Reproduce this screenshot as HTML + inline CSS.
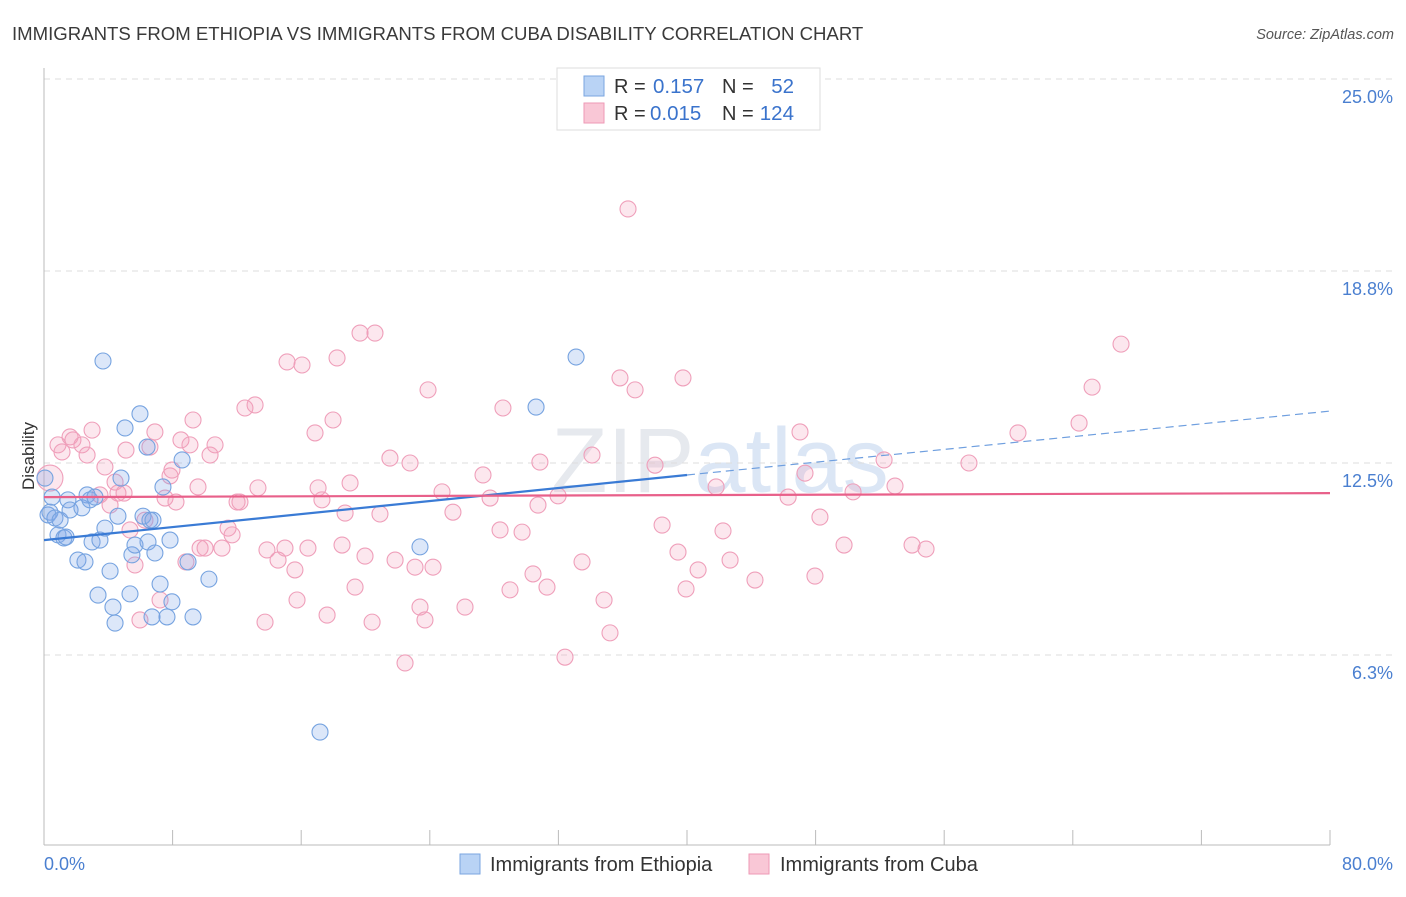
<!DOCTYPE html>
<html><head><meta charset="utf-8"><style>
body{margin:0;background:#fff;font-family:"Liberation Sans",sans-serif;}
svg text{font-family:"Liberation Sans",sans-serif;}
</style></head><body>
<svg id="chart" width="1406" height="892" viewBox="0 0 1406 892" xmlns="http://www.w3.org/2000/svg">
<text x="12" y="40" font-size="18.6" fill="#3a3a3a">IMMIGRANTS FROM ETHIOPIA VS IMMIGRANTS FROM CUBA DISABILITY CORRELATION CHART</text>
<text x="1394" y="39" font-size="14.5" fill="#555" font-style="italic" text-anchor="end">Source: ZipAtlas.com</text>
<text x="0" y="0" transform="translate(34,456) rotate(-90)" font-size="17" fill="#333" text-anchor="middle">Disability</text>
<text x="720" y="492" font-size="92" fill="#e6e9ee" text-anchor="middle" font-family="Liberation Serif">ZIP<tspan font-family="Liberation Sans" fill="#dbe6f5">atlas</tspan></text>
<g id="grid"></g><g id="axes"></g><g id="pts"></g><g id="trends"></g>
<g>
<rect x="557" y="68" width="263" height="62" fill="#fff" stroke="#ddd"/>
<rect x="584" y="76" width="20" height="20" fill="#b9d3f5" stroke="#7aa6e0"/>
<rect x="584" y="103" width="20" height="20" fill="#f9c7d6" stroke="#ee9ab6"/>
<text x="614" y="93" font-size="20" fill="#333">R =</text><text x="653" y="93" font-size="20.5" fill="#3a73cc">0.157</text>
<text x="722" y="93" font-size="20" fill="#333">N =</text><text x="794" y="93" font-size="20.5" fill="#3a73cc" text-anchor="end">52</text>
<text x="614" y="120" font-size="20" fill="#333">R =</text><text x="650" y="120" font-size="20.5" fill="#3a73cc">0.015</text>
<text x="722" y="120" font-size="20" fill="#333">N =</text><text x="794" y="120" font-size="20.5" fill="#3a73cc" text-anchor="end">124</text>
</g>
<g>
<rect x="460" y="854" width="20" height="20" fill="#b9d3f5" stroke="#7aa6e0"/>
<text x="490" y="871" font-size="20" fill="#333">Immigrants from Ethiopia</text>
<rect x="749" y="854" width="20" height="20" fill="#f9c7d6" stroke="#ee9ab6"/>
<text x="780" y="871" font-size="20" fill="#333">Immigrants from Cuba</text>
</g>
</svg>
<script>
const yTicks=[6.25,12.5,18.75,25];
const yTickLabels=["6.3%","12.5%","18.8%","25.0%"];
const xTicks=[0,8,16,24,32,40,48,56,64,72,80];
const ethX=[.37,.5,.25,.68,1,.87,1.24,1.49,1.62,2.11,2.36,2.55,2.68,2.86,2.99,3.17,3.36,3.48,3.79,4.11,4.29,4.42,4.6,4.79,5.04,5.35,5.47,5.66,5.97,6.16,6.41,6.47,6.59,6.72,6.78,6.9,7.22,7.4,7.65,7.84,7.96,8.59,8.96,9.27,10.26,17.17,23.39,30.61,33.1,3.67,.06,1.37];
const ethY=[10.9,11.39,10.81,10.71,10.64,10.16,10.06,11.3,10.97,9.34,11.04,9.28,11.46,11.3,9.93,11.39,8.2,9.99,10.38,8.98,7.81,7.29,10.77,12.01,13.64,8.24,9.51,9.83,14.1,10.77,13.02,9.93,10.64,7.49,10.64,9.57,8.56,11.72,7.49,9.99,7.98,12.6,9.28,7.49,8.72,3.74,9.77,14.32,15.95,15.82,12.01,10.09];
const cubX=[.37,.87,1.12,1.62,1.8,2.36,2.68,2.99,3.48,3.79,4.11,4.42,4.6,4.98,5.1,5.35,5.66,5.97,6.28,6.59,6.9,7.22,7.53,7.84,7.96,8.21,8.52,8.83,9.08,9.27,9.58,9.71,10.02,10.33,10.64,11.07,11.45,11.7,12.01,12.19,12.5,13.13,13.31,13.75,13.87,14.56,14.99,15.12,15.61,15.74,16.05,16.42,16.86,17.05,17.29,17.61,17.98,18.23,18.54,18.73,19.04,19.35,19.66,19.97,20.41,20.59,20.9,21.52,21.84,22.46,22.77,23.08,23.39,23.7,23.89,24.2,24.76,25.44,26.19,27.31,27.75,28.37,28.55,28.99,29.74,30.42,30.73,30.85,31.29,31.98,32.41,33.47,34.09,34.84,35.21,35.83,36.33,36.77,38.01,38.45,39.44,39.75,39.94,40.69,41.81,42.24,42.68,44.23,46.29,47.03,47.34,47.96,48.27,49.77,50.33,52.26,52.94,54,54.87,57.54,60.59,64.39,65.2,67];
const cubY=[12.01,13.09,12.86,13.35,13.25,13.09,12.76,13.57,11.46,12.37,11.13,11.88,11.52,11.52,12.92,10.32,9.18,7.39,10.64,13.02,13.51,8.04,11.36,12.08,12.27,11.23,13.25,9.28,13.09,13.9,11.72,9.73,9.73,12.76,13.09,9.73,10.38,10.16,11.23,11.23,14.29,14.39,11.69,7.32,9.67,9.34,9.73,15.79,9.02,8.04,15.69,9.73,13.48,11.69,11.3,7.55,13.9,15.92,9.83,10.87,11.85,8.46,16.73,9.47,7.32,16.73,10.84,12.66,9.34,5.99,12.5,9.11,7.81,7.39,14.88,9.11,11.56,10.9,7.81,12.11,11.36,10.32,14.29,8.37,10.25,8.89,11.13,12.53,8.46,11.43,6.18,9.28,12.76,8.04,6.97,15.27,20.77,14.88,12.43,10.48,9.6,15.27,8.4,9.02,11.72,10.29,9.34,8.69,11.39,13.51,12.17,8.82,10.74,9.83,11.56,12.6,11.75,9.83,9.7,12.5,13.48,13.8,14.97,16.37];
const ethTrend=[9.99,12.11,14.19];
const cubTrend=[11.39,11.52];
const NS="http://www.w3.org/2000/svg";
const X=v=>44+v/80*1286, Y=v=>847-v/6.25*192;
function mk(t,a,p){const e=document.createElementNS(NS,t);for(const k in a)e.setAttribute(k,a[k]);p.appendChild(e);return e;}
const grid=document.getElementById('grid'),axes=document.getElementById('axes'),pts=document.getElementById('pts'),tr=document.getElementById('trends');
yTicks.forEach((v,i)=>{
 const l=mk('line',{x1:44,x2:1394,y1:Y(v),y2:Y(v),stroke:'#ddd','stroke-dasharray':'6,5'},grid);
 
 
 const t=mk('text',{x:1393,y:Y(v)+24,'font-size':18,fill:'#4a7fd0','text-anchor':'end'},axes);
 t.textContent=yTickLabels[i];
 
 
});
const ax=mk('line',{x1:44,x2:1330,y1:845,y2:845,stroke:'#bbb'},axes);


const ay=mk('line',{x1:44,x2:44,y1:68,y2:845,stroke:'#bbb'},axes);


xTicks.forEach(v=>{
 const t=mk('line',{x1:X(v),x2:X(v),y1:830,y2:845,stroke:'#bbb'},axes);
 
 
});
const xl0=mk('text',{x:44,y:870,'font-size':18,fill:'#4a7fd0'},axes);xl0.textContent='0.0%';


const xl1=mk('text',{x:1393,y:870,'font-size':18,fill:'#4a7fd0','text-anchor':'end'},axes);xl1.textContent='80.0%';


cubX.forEach((v,i)=>{
 const c=mk('circle',{cx:X(v),cy:Y(cubY[i]),r:i===0?13:8,fill:'rgba(244,160,188,0.25)',stroke:'#ef9fba','stroke-width':1.1},pts);
 
 
});
ethX.forEach((v,i)=>{
 const c=mk('circle',{cx:X(v),cy:Y(ethY[i]),r:8,fill:'rgba(130,170,235,0.28)',stroke:'#76a3e0','stroke-width':1.1},pts);
 
 
});
const b1=mk('line',{x1:X(0),y1:Y(ethTrend[0]),x2:X(40),y2:Y(ethTrend[1]),stroke:'#3a7bd5','stroke-width':2.2},tr);


const b2=mk('line',{x1:X(40),y1:Y(ethTrend[1]),x2:X(80),y2:Y(ethTrend[2]),stroke:'#6f9fdf','stroke-width':1.2,'stroke-dasharray':'8,5'},tr);


const p1=mk('line',{x1:X(0),y1:Y(cubTrend[0]),x2:X(80),y2:Y(cubTrend[1]),stroke:'#e8608a','stroke-width':2.2},tr);


</script>
</body></html>
